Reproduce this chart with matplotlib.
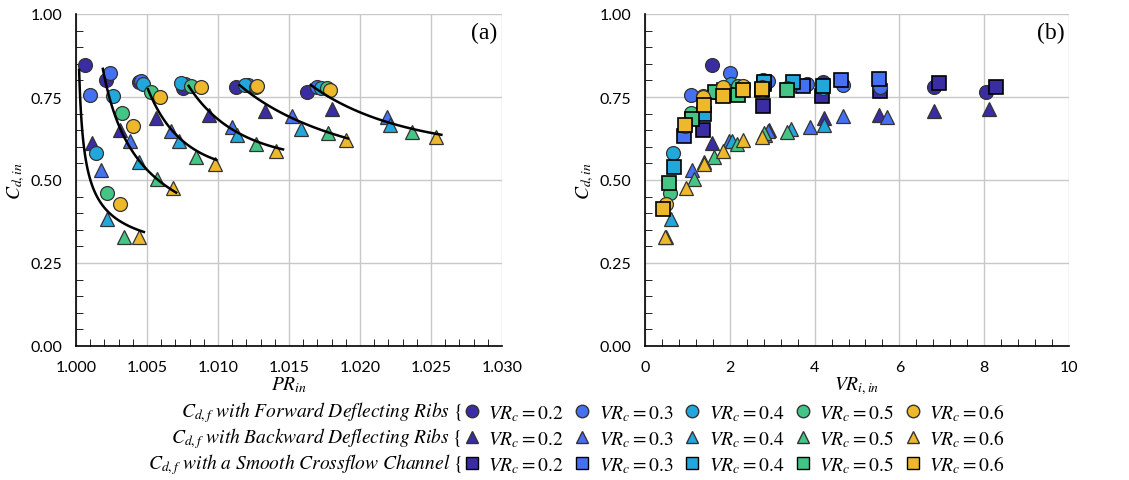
import numpy as np
import matplotlib
matplotlib.use('Agg')
import matplotlib.pyplot as plt
from matplotlib.lines import Line2D
from matplotlib.ticker import MultipleLocator

plt.rcParams['font.family'] = ['Lato', 'DejaVu Sans']
plt.rcParams['mathtext.fontset'] = 'stix'

vrc_labels = ['0.2', '0.3', '0.4', '0.5', '0.6']
colors = ['#3a2ca3', '#4670f2', '#22a7dc', '#45c585', '#edb82c']

# forward deflecting ribs (circles): one row per VRc, one value per test group
fwd_pr = [
    [1.00061, 1.00209, 1.00444, 1.00754, 1.01129, 1.01627],
    [1.00096, 1.00242, 1.00460, 1.00770, 1.01211, 1.01700],
    [1.00138, 1.00260, 1.00472, 1.00742, 1.01188, 1.01723],
    [1.00220, 1.00326, 1.00531, 1.00812, 1.01265, 1.01770],
    [1.00308, 1.00401, 1.00589, 1.00878, 1.01277, 1.01786],
]
fwd_cd = [
    [0.846, 0.800, 0.794, 0.777, 0.780, 0.764],
    [0.757, 0.821, 0.798, 0.790, 0.787, 0.780],
    [0.580, 0.754, 0.790, 0.792, 0.787, 0.777],
    [0.462, 0.702, 0.764, 0.784, 0.780, 0.777],
    [0.427, 0.663, 0.750, 0.780, 0.784, 0.770],
]
fwd_vr = [
    [1.57, 2.78, 4.20, 5.54, 6.82, 8.04],
    [1.08, 2.01, 2.90, 3.81, 4.66, 5.55],
    [0.66, 1.37, 2.04, 2.78, 3.45, 4.20],
    [0.58, 1.09, 1.64, 2.19, 2.75, 3.34],
    [0.50, 0.95, 1.37, 1.85, 2.32, 2.76],
]

# backward deflecting ribs (triangles)
bwd_pr = [
    [1.00113, 1.00308, 1.00566, 1.00934, 1.01329, 1.01805],
    [1.00178, 1.00378, 1.00671, 1.01099, 1.01521, 1.02190],
    [1.00220, 1.00441, 1.00723, 1.01134, 1.01582, 1.02209],
    [1.00336, 1.00573, 1.00847, 1.01265, 1.01775, 1.02366],
    [1.00444, 1.00683, 1.00977, 1.01406, 1.01904, 1.02538],
]
bwd_cd = [
    [0.611, 0.651, 0.686, 0.696, 0.709, 0.714],
    [0.530, 0.618, 0.648, 0.661, 0.693, 0.689],
    [0.383, 0.553, 0.616, 0.636, 0.653, 0.666],
    [0.328, 0.503, 0.568, 0.609, 0.641, 0.646],
    [0.328, 0.476, 0.547, 0.588, 0.621, 0.631],
]
bwd_vr = [
    [1.57, 2.93, 4.21, 5.52, 6.82, 8.11],
    [1.12, 1.99, 2.90, 3.88, 4.68, 5.70],
    [0.62, 1.40, 2.05, 2.84, 3.44, 4.22],
    [0.50, 1.15, 1.62, 2.17, 2.80, 3.34],
    [0.48, 0.97, 1.40, 1.83, 2.30, 2.76],
]

# smooth crossflow channel (squares), only in panel (b)
smo_vr = [
    [1.37, 2.78, 4.17, 5.54, 6.94, 8.29],
    [0.91, 1.86, 2.80, 3.73, 4.62, 5.52],
    [0.68, 1.38, 2.04, 2.81, 3.50, 4.20],
    [0.57, 1.11, 1.64, 2.19, 2.75, 3.34],
    [0.42, 0.94, 1.38, 1.85, 2.32, 2.75],
]
smo_cd = [
    [0.650, 0.723, 0.754, 0.767, 0.793, 0.780],
    [0.633, 0.772, 0.790, 0.784, 0.800, 0.805],
    [0.538, 0.699, 0.764, 0.795, 0.794, 0.782],
    [0.492, 0.683, 0.764, 0.755, 0.770, 0.770],
    [0.412, 0.665, 0.727, 0.754, 0.770, 0.774],
]

# trend lines in panel (a): points
trend_pr = [
    [1.00022, 1.00071, 1.00227, 1.00478],
    [1.00189, 1.00316, 1.00471, 1.00705],
    [1.00507, 1.00671, 1.00847, 1.00988],
    [1.00793, 1.00934, 1.01129, 1.01458],
    [1.01153, 1.01340, 1.01575, 1.01915],
    [1.01653, 1.01810, 1.02186, 1.02573],
]
trend_cd = [
    [0.830, 0.560, 0.400, 0.345],
    [0.835, 0.650, 0.545, 0.462],
    [0.774, 0.651, 0.590, 0.560],
    [0.784, 0.707, 0.646, 0.592],
    [0.784, 0.732, 0.673, 0.626],
    [0.787, 0.742, 0.676, 0.636],
]

fig = plt.figure(figsize=(11.29, 4.81), dpi=100)
W, H = 1129, 481
ax_a = fig.add_axes([76 / W, (H - 347) / H, 426 / W, 332 / H])
ax_b = fig.add_axes([645 / W, (H - 347) / H, 424 / W, 332 / H])

ms = 10
for i in range(5):
    ax_a.plot(fwd_pr[i], fwd_cd[i], 'o', ms=ms, mfc=colors[i], mec='#333333', mew=0.9, ls='none', zorder=3)
    ax_a.plot(bwd_pr[i], bwd_cd[i], '^', ms=ms, mfc=colors[i], mec='#333333', mew=0.9, ls='none', zorder=3)

for px, cy in zip(trend_pr, trend_cd):
    lx = np.log(np.array(px) - 1)
    coef = np.polyfit(lx, np.log(cy), 2)
    xs = np.linspace(lx[0], lx[-1], 100)
    ax_a.plot(np.exp(xs) + 1, np.exp(np.polyval(coef, xs)), color='black', lw=1.8, zorder=4)

for i in range(5):
    ax_b.plot(fwd_vr[i], fwd_cd[i], 'o', ms=ms, mfc=colors[i], mec='#333333', mew=0.9, ls='none', zorder=3)
    ax_b.plot(bwd_vr[i], bwd_cd[i], '^', ms=ms, mfc=colors[i], mec='#333333', mew=0.9, ls='none', zorder=3)
    ax_b.plot(smo_vr[i], smo_cd[i], 's', ms=ms - 0.5, mfc=colors[i], mec='black', mew=1.2, ls='none', zorder=3)

for ax in (ax_a, ax_b):
    ax.set_ylim(0, 1)
    ax.yaxis.set_major_locator(MultipleLocator(0.25))
    ax.yaxis.set_minor_locator(MultipleLocator(0.05))
    ax.yaxis.set_major_formatter(matplotlib.ticker.FormatStrFormatter('%.2f'))
    ax.grid(True, which='major', color='#c8c8c8', lw=1)
    ax.set_axisbelow(True)
    for s in ('top', 'right'):
        ax.spines[s].set_visible(False)
    for s in ('left', 'bottom'):
        ax.spines[s].set_linewidth(1.2)
    ax.tick_params(which='both', direction='in', labelsize=11.5, color='black')
    ax.tick_params(which='major', length=0)
    ax.tick_params(which='minor', length=5)
    ax.tick_params(axis='x', which='major', pad=10)
    ax.tick_params(axis='y', which='major', pad=10)
    ax.set_ylabel(r'$C_{d,in}$', fontsize=14, labelpad=2)

ax_a.set_xlim(1.0, 1.03)
ax_a.xaxis.set_major_locator(MultipleLocator(0.005))
ax_a.xaxis.set_minor_locator(MultipleLocator(0.001))
ax_a.xaxis.set_major_formatter(matplotlib.ticker.FormatStrFormatter('%.3f'))
ax_a.set_xlabel(r'$PR_{in}$', fontsize=14, labelpad=0)

ax_b.set_xlim(0, 10)
ax_b.xaxis.set_major_locator(MultipleLocator(2))
ax_b.xaxis.set_minor_locator(MultipleLocator(0.4))
ax_b.set_xlabel(r'$VR_{i,in}$', fontsize=14, labelpad=0)

ax_a.text(0.99, 0.975, '(a)', transform=ax_a.transAxes, ha='right', va='top',
          fontsize=17, family='Liberation Serif')
ax_b.text(0.99, 0.975, '(b)', transform=ax_b.transAxes, ha='right', va='top',
          fontsize=17, family='Liberation Serif')

# legend rows
row_titles = [
    r'$C_{d,f}\ with\ Forward\ Deflecting\ Ribs\ \{$',
    r'$C_{d,f}\ with\ Backward\ Deflecting\ Ribs\ \{$',
    r'$C_{d,f}\ with\ a\ Smooth\ Crossflow\ Channel\ \{$',
]
row_markers = ['o', '^', 's']
row_y = [413, 439, 465]
for title, mk, yy in zip(row_titles, row_markers, row_y):
    fy = (H - yy) / H
    fig.text(462 / W, fy, title, ha='right', va='center', fontsize=14)
    handles = [Line2D([], [], marker=mk, ls='none', ms=9, mfc=c,
                      mec='black' if mk == 's' else '#333333', mew=1.0)
               for c in colors]
    labels = [r'$VR_c=%s$' % v for v in vrc_labels]
    fig.legend(handles, labels, ncol=5, loc='center left', bbox_to_anchor=(462 / W, fy),
               frameon=False, fontsize=14, handlelength=1.0, handletextpad=0.35,
               columnspacing=0.45, borderpad=0, borderaxespad=0)

fig.savefig('out.png', dpi=100)
